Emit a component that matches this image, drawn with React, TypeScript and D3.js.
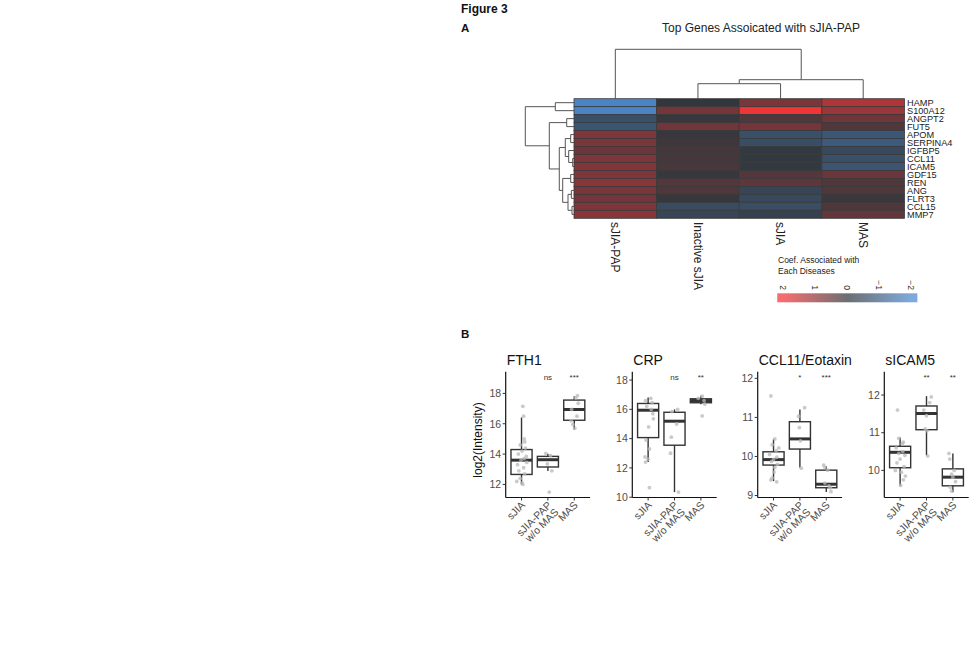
import React from "react";
import * as d3 from "d3";

// ---------------- Heatmap data ----------------
const genes = ["HAMP", "S100A12", "ANGPT2", "FUT5", "APOM", "SERPINA4", "IGFBP5", "CCL11", "ICAM5", "GDF15", "REN", "ANG", "FLRT3", "CCL15", "MMP7"];
const diseaseGroups = ["sJIA-PAP", "Inactive sJIA", "sJIA", "MAS"];
const coefPAP = [-1.9, -1.9, -0.6, -0.75, 0.8, 0.75, 0.6, 0.8, 0.85, 0.8, 0.9, 0.75, 0.7, 0.8, 0.9];
const coefInactive = [0.0, 0.7, 0.05, 0.65, 0.05, 0.15, 0.2, 0.2, 0.25, 0.05, 0.35, 0.3, 0.05, -0.5, -0.35];
const coefSJIA = [0.75, 2.05, 0.3, 0.7, -0.6, -0.55, -0.05, -0.05, -0.05, 0.35, 0.45, -0.35, -0.45, -0.55, -0.25];
const coefMAS = [1.3, 1.1, 0.65, 0.3, -0.8, -0.9, -0.45, -0.6, -0.75, 0.6, 0.3, 0.3, 0.1, 0.3, 0.5];
const legendTicks = [2, 1, 0, -1, -2];

type TreeNode = { leaf?: string; h?: number; children?: TreeNode[] };
const L = (leaf: string): TreeNode => ({ leaf });
const N = (h: number, a: TreeNode, b: TreeNode): TreeNode => ({ h, children: [a, b] });

const colTree: TreeNode = N(49.4, L("sJIA-PAP"), N(19, N(15, L("Inactive sJIA"), L("sJIA")), L("MAS")));
const rowTree: TreeNode = N(10,
  N(3.84, L("HAMP"), L("S100A12")),
  N(5.07,
    N(1.5, L("ANGPT2"), L("FUT5")),
    N(3.02,
      N(1.79, N(0.68, L("APOM"), L("SERPINA4")), N(1.09, L("IGFBP5"), N(0.27, L("CCL11"), L("ICAM5")))),
      N(2.32, N(0.68, L("GDF15"), L("REN")), N(1.23, N(0.55, L("ANG"), L("FLRT3")), N(0.41, L("CCL15"), L("MMP7"))))
    )
  )
);

// ---------------- Boxplot data ----------------
const boxCats = ["sJIA", "sJIA-PAP\nw/o MAS", "MAS"];
// [lower whisker, q1, median, q3, upper whisker]
const fth1Stats = [[12.0, 12.66, 13.6, 14.3, 16.41], [12.88, 13.15, 13.63, 13.85, 14.03], [15.62, 16.23, 16.94, 17.56, 17.82]];
const crpStats = [[12.4, 14.07, 15.94, 16.4, 16.8], [10.35, 13.55, 15.19, 15.8, 15.99], [16.35, 16.45, 16.6, 16.72, 16.93]];
const ccl11Stats = [[9.37, 9.78, 9.92, 10.12, 10.44], [9.72, 10.19, 10.45, 10.89, 11.2], [9.09, 9.2, 9.29, 9.65, 9.75]];
const icam5Stats = [[9.59, 10.07, 10.48, 10.64, 10.87], [10.4, 11.08, 11.51, 11.71, 11.97], [9.42, 9.59, 9.82, 10.04, 10.45]];

// points: [value, jitter offset in category units]
const fth1Pts = [
  [[17.15, 0.05], [16.5, 0.08], [15.0, 0.1], [14.8, 0.12], [14.6, -0.05], [14.4, 0.15], [14.2, 0.02], [14.0, -0.12], [13.85, 0.18], [13.7, 0.1], [13.6, -0.02], [13.45, 0.2], [13.3, -0.15], [13.1, 0.08], [12.9, -0.1], [12.7, 0.12], [12.4, -0.05], [12.2, -0.18], [12.1, 0.02], [12.0, 0.05]],
  [[14.05, -0.08], [13.9, 0.1], [13.35, -0.02], [12.9, 0.15], [11.5, 0.05]],
  [[17.85, 0.12], [17.7, 0.05], [17.35, 0.15], [16.95, -0.1], [16.5, 0.1], [16.2, -0.12], [15.95, -0.05], [15.7, 0.02]],
];
const crpPts = [
  [[16.75, 0.1], [16.6, -0.1], [16.45, 0.15], [16.2, -0.05], [16.0, 0.12], [15.7, 0.18], [15.35, 0.2], [14.8, 0.02], [13.9, -0.08], [13.3, 0.05], [12.75, -0.12], [12.6, 0.0], [12.4, -0.1], [10.65, 0.05]],
  [[16.0, 0.12], [15.85, -0.1], [15.0, 0.08], [14.1, -0.12], [13.0, -0.15], [10.35, 0.15]],
  [[16.9, 0.05], [16.75, -0.1], [16.6, 0.12], [16.35, 0.15], [15.55, 0.05]],
];
const ccl11Pts = [
  [[11.55, -0.1], [10.45, 0.05], [10.3, -0.05], [10.22, 0.2], [10.15, 0.1], [10.05, -0.15], [9.98, 0.12], [9.92, 0.0], [9.87, -0.08], [9.8, 0.15], [9.72, 0.05], [9.6, 0.02], [9.45, -0.05], [9.4, -0.1], [9.35, 0.12]],
  [[11.25, 0.18], [11.03, -0.05], [10.74, -0.02], [10.4, 0.02], [9.7, 0.05]],
  [[9.78, -0.1], [9.72, -0.05], [9.65, 0.05], [9.32, -0.05], [9.25, 0.1], [9.2, 0.15], [9.1, 0.18]],
];
const icam5Pts = [
  [[11.6, -0.1], [10.85, -0.05], [10.75, 0.12], [10.7, 0.08], [10.6, -0.15], [10.5, 0.1], [10.45, -0.05], [10.4, 0.18], [10.3, 0.0], [10.2, -0.12], [10.1, 0.15], [10.0, -0.18], [9.95, 0.05], [9.85, 0.2], [9.75, 0.12], [9.6, 0.02]],
  [[11.95, 0.18], [11.8, 0.12], [11.6, -0.1], [11.45, 0.0], [11.1, -0.05], [11.05, 0.02], [10.38, 0.05]],
  [[10.45, -0.15], [10.3, -0.12], [10.0, 0.05], [9.9, -0.05], [9.82, 0.0], [9.7, 0.1], [9.55, -0.1], [9.45, -0.05]],
];
const panelTitles = ["FTH1", "CRP", "CCL11/Eotaxin", "sICAM5"];
const panelDomains = [[11.14, 19.43], [9.98, 18.57], [8.95, 12.17], [9.28, 12.62]];
const panelTicks = [[12, 14, 16, 18], [10, 12, 14, 16, 18], [9, 10, 11, 12], [10, 11, 12]];
const panelSig = [["", "ns", "***"], ["", "ns", "**"], ["", "*", "***"], ["", "**", "**"]];

const FONT = "Liberation Sans, Arial, Helvetica, sans-serif";

function layoutTree(node: TreeNode, pos: (l: string) => number, hs: (h: number) => number, horizontal: boolean, out: string[]): { p: number; h: number } {
  if (node.leaf) return { p: pos(node.leaf), h: 0 };
  const [a, b] = node.children!.map((c) => layoutTree(c, pos, hs, horizontal, out));
  const h = node.h!;
  if (horizontal) {
    out.push(`M${hs(a.h)},${a.p}H${hs(h)}V${b.p}H${hs(b.h)}`);
  } else {
    out.push(`M${a.p},${hs(a.h)}V${hs(h)}H${b.p}V${hs(b.h)}`);
  }
  return { p: (a.p + b.p) / 2, h };
}

function Heatmap() {
  const x = d3.scaleBand().domain(diseaseGroups).range([574, 904.5]);
  const y = d3.scaleBand().domain(genes).range([98.7, 218.3]);
  const color = d3.scaleLinear<string>().domain([-2, 0, 2]).range(["#4c88cc", "#32373d", "#f03537"]).clamp(true);
  const cols = [coefPAP, coefInactive, coefSJIA, coefMAS];

  const colPaths: string[] = [];
  const hsCol = d3.scaleLinear().domain([0, 49.4]).range([98.7, 49.3]);
  layoutTree(colTree, (l) => x(l)! + x.bandwidth() / 2, hsCol, false, colPaths);
  const rowPaths: string[] = [];
  const hsRow = d3.scaleLinear().domain([0, 10]).range([574, 525.3]);
  layoutTree(rowTree, (l) => y(l)! + y.bandwidth() / 2, hsRow, true, rowPaths);

  const lg = d3.scaleLinear().domain([2, -2]).range([783.3, 910.7]);
  const stops = d3.range(0, 23).map((i) => 2.2 - i * 0.2);

  return (
    <g>
      <text x={761} y={32} textAnchor="middle" fontSize={12} fill="#222">Top Genes Assoicated with sJIA-PAP</text>
      {colPaths.map((d, i) => <path key={"c" + i} d={d} fill="none" stroke="#555" strokeWidth={1} />)}
      {rowPaths.map((d, i) => <path key={"r" + i} d={d} fill="none" stroke="#555" strokeWidth={1} />)}
      {cols.map((vals, ci) =>
        vals.map((v, ri) => (
          <rect key={ci + "-" + ri} x={x(diseaseGroups[ci])} y={y(genes[ri])} width={x.bandwidth()} height={y.bandwidth()}
            fill={color(v)} stroke="#3a3a3a" strokeWidth={0.8} />
        ))
      )}
      {genes.map((g) => (
        <text key={g} x={907} y={y(g)! + y.bandwidth() / 2} dy="0.36em" fontSize={9.2} fill="#222">{g}</text>
      ))}
      {diseaseGroups.map((g) => (
        <text key={g} transform={`translate(${x(g)! + x.bandwidth() / 2},222) rotate(90)`} dy="0.35em" fontSize={12} fill="#222">{g}</text>
      ))}
      {/* legend */}
      <text x={778} y={263} fontSize={8.5} fill="#222">Coef. Associated with</text>
      <text x={778} y={274} fontSize={8.5} fill="#222">Each Diseases</text>
      <defs>
        <linearGradient id="lgGrad" x1="0" x2="1" y1="0" y2="0">
          {stops.map((s, i) => (
            <stop key={i} offset={i / (stops.length - 1)} stopColor={color(s)} />
          ))}
        </linearGradient>
      </defs>
      <rect x={lg(2.19)} y={293.3} width={lg(-2.21) - lg(2.19)} height={9} fill="url(#lgGrad)" opacity={0.72} />
      {legendTicks.map((t) => (
        <text key={t} transform={`translate(${lg(t)},290) rotate(90)`} textAnchor="end" dy="0.35em" fontSize={8.5} fill="#333">
          {t < 0 ? "\u2212" + Math.abs(t) : String(t)}
        </text>
      ))}
    </g>
  );
}

function BoxPanel({ idx, x0 }: { idx: number; x0: number }) {
  const stats = [fth1Stats, crpStats, ccl11Stats, icam5Stats][idx];
  const pts = [fth1Pts, crpPts, ccl11Pts, icam5Pts][idx];
  const width = 84.4;
  const top = 371.7, bottom = 497.5;
  const xs = d3.scaleLinear().domain([0.4, 3.6]).range([x0, x0 + width]);
  const ys = d3.scaleLinear().domain(panelDomains[idx]).range([bottom, top]);
  const bw = xs(1.8) - xs(1);
  return (
    <g>
      <text x={x0 + 1} y={365} fontSize={14} fill="#111">{panelTitles[idx]}</text>
      {stats.map((s, i) => {
        const cx = xs(i + 1);
        return (
          <g key={i}>
            <line x1={cx} x2={cx} y1={ys(s[0])} y2={ys(s[1])} stroke="#333" strokeWidth={1.4} />
            <line x1={cx} x2={cx} y1={ys(s[3])} y2={ys(s[4])} stroke="#333" strokeWidth={1.4} />
            <rect x={cx - bw / 2} y={ys(s[3])} width={bw} height={ys(s[1]) - ys(s[3])} fill="#fff" stroke="#333" strokeWidth={1.4} />
            <line x1={cx - bw / 2} x2={cx + bw / 2} y1={ys(s[2])} y2={ys(s[2])} stroke="#333" strokeWidth={3} />
          </g>
        );
      })}
      {pts.map((grp, i) =>
        grp.map(([v, j], k) => (
          <circle key={i + "-" + k} cx={xs(i + 1 + j)} cy={ys(v)} r={1.9} fill="#b8b8b8" opacity={0.75} />
        ))
      )}
      {panelSig[idx].map((s, i) => (
        <text key={i} x={xs(i + 1)} y={380} textAnchor="middle" fontSize={8} fill="#333">{s}</text>
      ))}
      {/* axes */}
      <line x1={x0} x2={x0} y1={top} y2={bottom} stroke="#111" strokeWidth={1.2} />
      <line x1={x0} x2={x0 + width} y1={bottom} y2={bottom} stroke="#111" strokeWidth={1.2} />
      {panelTicks[idx].map((t) => (
        <g key={t}>
          <line x1={x0 - 3} x2={x0} y1={ys(t)} y2={ys(t)} stroke="#333" strokeWidth={1} />
          <text x={x0 - 4.5} y={ys(t)} dy="0.36em" textAnchor="end" fontSize={10.5} fill="#4d4d4d">{t}</text>
        </g>
      ))}
      {boxCats.map((c, i) => (
        <g key={c}>
          <line x1={xs(i + 1)} x2={xs(i + 1)} y1={bottom} y2={bottom + 3} stroke="#333" strokeWidth={1} />
          <text transform={`translate(${xs(i + 1) + 2},${bottom + 6}) rotate(-45)`} textAnchor="end" fontSize={10.5} fill="#4d4d4d">
            {c.split("\n").map((line, li) => (
              <tspan key={li} x={0} dy={li === 0 ? "0.3em" : "0.95em"}>{line}</tspan>
            ))}
          </text>
        </g>
      ))}
    </g>
  );
}

export default function App() {
  const panelX = [505.7, 632.3, 757.7, 884.3];
  return (
    <svg width={974} height={670} style={{ position: "absolute", left: 0, top: 0, background: "#fff" }} fontFamily={FONT}>
      <rect width={974} height={670} fill="#fff" />
      <text x={461} y={12.5} fontSize={12} fontWeight="bold" fill="#111">Figure 3</text>
      <text x={461} y={32} fontSize={11.5} fontWeight="bold" fill="#111">A</text>
      <text x={461} y={338} fontSize={11.5} fontWeight="bold" fill="#111">B</text>
      <Heatmap />
      <text transform="translate(482,440) rotate(-90)" textAnchor="middle" fontSize={12} fill="#111">log2(Intensity)</text>
      {panelX.map((x0, i) => <BoxPanel key={i} idx={i} x0={x0} />)}
    </svg>
  );
}
